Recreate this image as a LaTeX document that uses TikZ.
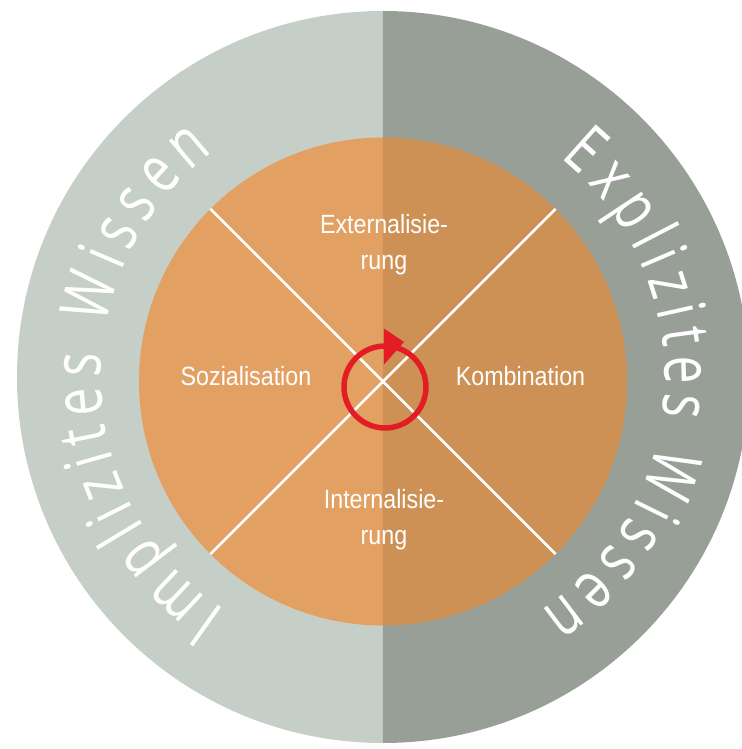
\documentclass[tikz,border=0pt]{standalone}
\usepackage{fontspec}
\setsansfont{Liberation Sans}[FakeStretch=0.88]
\newfontfamily\ringfont{Open Sans}[FakeStretch=0.74]
\newcommand\ringsize{\fontsize{48}{48}\selectfont}
\usetikzlibrary{decorations.text}

\definecolor{implizitgrau}{RGB}{198,206,200}
\definecolor{explizitgrau}{RGB}{151,159,151}
\definecolor{implizitorange}{RGB}{226,160,98}
\definecolor{explizitorange}{RGB}{205,145,86}
\definecolor{zyklusrot}{RGB}{226,30,36}

\begin{document}
\begin{tikzpicture}[
    x=0.025cm, y=0.025cm,
    phase/.style={text=white, font=\sffamily\fontsize{18.8}{25.6}\selectfont, align=center},
    kreuz/.style={draw=white, line width=2pt},
    ringtext/.style={decorate, decoration={text along path, text align={fit to path}, text color=white, text={|\ringfont\ringsize|#1}}}
]
    \useasboundingbox (-383,-367.5) rectangle (359,381.5);

    % outer ring, two halves
    \fill[implizitgrau] (0,370.5) arc[start angle=90, end angle=270, radius=366] -- cycle;
    \fill[explizitgrau] (0,370.5) arc[start angle=90, end angle=-90, radius=366] -- cycle;

    % inner disc, two halves
    \fill[implizitorange] (0,244) arc[start angle=90, end angle=270, radius=244] -- cycle;
    \fill[explizitorange] (0,244) arc[start angle=90, end angle=-90, radius=244] -- cycle;

    % diagonals
    \coordinate (nw) at (135:244);
    \coordinate (ne) at (45:244);
    \coordinate (sw) at (225:244);
    \coordinate (se) at (-45:244);
    \draw[kreuz] (nw) -- (se);
    \draw[kreuz] (ne) -- (sw);

    % cycle arrow in the middle
    \coordinate (zyklus) at (2,-5.5);
    \draw[zyklusrot, line width=3.9pt] (zyklus) circle[radius=41];
    \fill[zyklusrot] (1,53) -- (21,39.5) -- (1,17) -- cycle;

    % the four phases
    \node[phase] (ext) at (1,137) {Externalisie-\\rung};
    \node[phase] (soz) at (-137,5.5) {Sozialisation};
    \node[phase] (kom) at (137.5,5.5) {Kombination};
    \node[phase] (int) at (1,-138) {Internalisie-\\rung};

    % ring labels
    \path[ringtext=Implizites Wissen] ([shift={(0,4.5)}]236:282) arc[start angle=236, end angle=127, radius=282];
    \path[ringtext=Explizites Wissen] ([shift={(0,4.5)}]51:282) arc[start angle=51, end angle=-56, radius=282];
\end{tikzpicture}
\end{document}
